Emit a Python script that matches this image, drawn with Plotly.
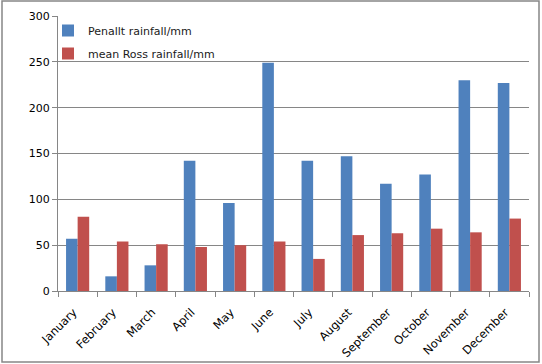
import plotly.graph_objects as go

months = ["January", "February", "March", "April", "May", "June", "July",
          "August", "September", "October", "November", "December"]
penallt = [57, 16, 28, 142, 96, 249, 142, 147, 117, 127, 230, 227]
ross = [81, 54, 51, 48, 50, 54, 35, 61, 63, 68, 64, 79]
y_ticks = [0, 50, 100, 150, 200, 250, 300]

W, H = 542, 364
ml, mr, mt, mb = 58, 13, 16, 73
pw, ph = W - ml - mr, H - mt - mb

def px_x(p):
    return (p - ml) / pw

def px_y(p):
    return (H - mb - p) / ph

fig = go.Figure()
fig.add_trace(go.Bar(x=months, y=penallt, name="Penallt rainfall/mm",
                     marker=dict(color="#4F81BD", line=dict(width=0)),
                     legendgroup="a"))
fig.add_trace(go.Bar(x=months, y=ross, name="mean Ross rainfall/mm",
                     marker=dict(color="#C0504D", line=dict(width=0)),
                     legendgroup="b"))

fig.update_layout(
    width=W, height=H,
    margin=dict(l=ml, r=mr, t=mt, b=mb, autoexpand=False),
    paper_bgcolor="white", plot_bgcolor="white",
    barmode="group", bargap=0.41, bargroupgap=0,
    font=dict(family="DejaVu Sans, Verdana, sans-serif", size=11, color="#000000"),
    showlegend=True,
    legend=dict(x=px_x(48), y=px_y(16), xanchor="left", yanchor="top",
                bgcolor="rgba(0,0,0,0)", tracegroupgap=4,
                font=dict(size=11, color="#1a1a1a"), itemwidth=30),
    xaxis=dict(type="category", tickangle=-45, showgrid=False, automargin=False,
               showline=True, linecolor="#868686", linewidth=1,
               ticks="outside", ticklen=5, tickcolor="#868686",
               tickson="boundaries", tickfont=dict(size=11.5),
               ticklabelstandoff=9, ticklabelshift=-4),
    yaxis=dict(range=[0, 300], tickvals=y_ticks, showgrid=True, automargin=False,
               gridcolor="#868686", gridwidth=1,
               showline=True, linecolor="#868686", linewidth=1,
               ticks="outside", ticklen=5, tickcolor="#868686",
               zeroline=False, tickfont=dict(size=11)),
    shapes=[dict(type="rect", xref="paper", yref="paper",
                 x0=px_x(2), x1=px_x(539), y0=px_y(362), y1=px_y(1),
                 line=dict(color="#868686", width=1.5), layer="below")],
)

fig.write_html("out.html", config={"displayModeBar": False},
               post_script="document.body.style.margin='0';document.body.style.overflow='hidden';")
